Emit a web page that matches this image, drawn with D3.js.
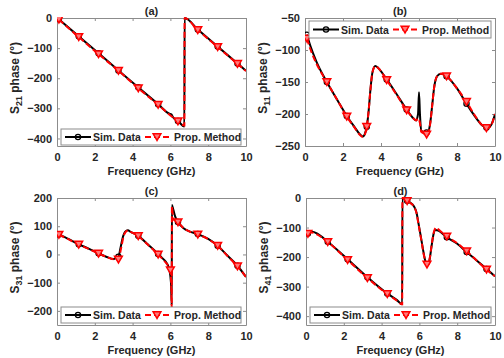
<!DOCTYPE html>
<html>
<head>
<meta charset="utf-8">
<script src="https://cdn.jsdelivr.net/npm/d3@7"></script>
<style>
  body { margin: 0; background: #fff; }
  svg { display: block; }
  text { font-family: Arial, Helvetica, sans-serif; font-weight: bold; fill: #262626; }
</style>
</head>
<body>
<div id="chart"></div>
<script>
// frequencies (GHz) where markers are drawn
const markFreqs = [0.1, 1.15, 2.2, 3.25, 4.3, 5.35, 6.4, 7.45, 8.5, 9.55];
const xTicks = [0, 2, 4, 6, 8, 10];

// (a) S21 phase
const simA = [[0.1,-4],[1.15,-61],[2.2,-117],[3.25,-174],[4.3,-230],[5.35,-286],[5.95,-318],[6.05,-320],[6.12,-328],[6.4,-342],[6.74,-360],[6.75,0],[7.45,-38],[8.5,-95],[9.55,-151],[10,-175]];
const propA = [[0.1,-5],[1.15,-63],[2.2,-120],[3.25,-175],[4.3,-233],[5.35,-288],[6.4,-343],[6.74,-357],[6.75,0],[7.45,-40],[8.5,-96],[9.55,-152],[10,-176]];
const yTicksA = [0, -100, -200, -300, -400];

// (b) S11 phase
const simB = [[0.1,-76],[0.3,-95],[0.6,-118],[1.15,-150],[1.7,-178],[2.2,-203],[2.6,-220],[2.9,-232],[3.05,-235],[3.15,-231],[3.25,-220],[3.35,-195],[3.45,-160],[3.55,-135],[3.7,-125],[3.85,-128],[4.3,-146],[4.8,-168],[5.35,-193],[5.65,-205],[5.85,-210],[5.95,-200],[6.0,-166],[6.05,-200],[6.12,-226],[6.3,-229],[6.4,-229],[6.5,-227],[6.6,-212],[6.7,-185],[6.8,-158],[6.95,-141],[7.15,-137],[7.45,-141],[8.0,-160],[8.5,-184],[9.0,-206],[9.3,-217],[9.55,-221],[9.75,-219],[9.9,-210],[10,-200]];
const propB = [[0.1,-82],[0.3,-100],[0.6,-121],[1.15,-150],[1.7,-178],[2.2,-204],[2.6,-221],[2.9,-233],[3.05,-236],[3.15,-232],[3.25,-220],[3.35,-195],[3.45,-160],[3.55,-135],[3.7,-125],[3.85,-128],[4.3,-147],[4.8,-169],[5.35,-194],[5.65,-205],[5.85,-210],[5.95,-207],[6.05,-214],[6.12,-228],[6.3,-231],[6.4,-232],[6.5,-229],[6.6,-213],[6.7,-185],[6.8,-158],[6.95,-141],[7.15,-137],[7.45,-141],[8.0,-160],[8.5,-181],[9.0,-205],[9.3,-217],[9.55,-222],[9.75,-220],[9.9,-210],[10,-200]];
const yTicksB = [-50, -100, -150, -200, -250];

// (c) S31 phase
const simC = [[0.1,71],[0.6,55],[1.15,36],[1.7,20],[2.2,4],[2.6,-8],[3.0,-16],[3.2,-9],[3.25,-8],[3.35,20],[3.5,65],[3.6,80],[3.75,86],[3.9,80],[4.3,66],[4.8,36],[5.35,2],[5.6,-15],[5.8,-30],[5.95,-56],[6.03,-100],[6.07,-180],[6.08,175],[6.15,160],[6.25,135],[6.4,115],[6.7,93],[7.0,82],[7.45,72],[8.0,55],[8.5,31],[9.0,-3],[9.55,-40],[10,-80]];
const propC = [[0.1,70],[0.6,54],[1.15,35],[1.7,19],[2.2,3],[2.6,-8],[3.0,-17],[3.25,-18],[3.4,25],[3.55,70],[3.75,85],[3.9,80],[4.3,65],[4.8,35],[5.35,0],[5.7,-25],[6.0,-56],[6.05,-120],[6.07,-190],[6.08,170],[6.15,125],[6.3,118],[6.4,114],[6.7,93],[7.0,82],[7.45,71],[8.0,54],[8.5,31],[9.0,-4],[9.55,-42],[10,-80]];
const markFreqsC = [0.1, 1.15, 2.2, 3.25, 4.3, 5.35, 6.0, 6.4, 7.45, 8.5, 9.55];
const yTicksC = [200, 100, 0, -100, -200];

// (d) S41 phase
const simD = [[0.1,-120],[0.2,-116],[0.35,-114],[0.6,-121],[1.15,-148],[2.2,-207],[3.25,-268],[4.3,-323],[4.8,-345],[5.09,-360],[5.1,0],[5.35,-9],[5.5,-15],[5.7,-27],[5.85,-50],[5.95,-85],[6.1,-140],[6.25,-195],[6.35,-222],[6.45,-228],[6.55,-205],[6.65,-160],[6.75,-122],[6.85,-108],[7.0,-110],[7.45,-133],[8.0,-155],[8.5,-183],[9.0,-210],[9.55,-240],[10,-265]];
const propD = [[0.1,-121],[0.3,-117],[0.6,-124],[1.15,-149],[2.2,-210],[3.25,-271],[4.3,-325],[4.8,-347],[5.09,-360],[5.1,0],[5.35,-10],[5.5,-16],[5.7,-28],[5.85,-52],[5.95,-88],[6.1,-142],[6.25,-197],[6.4,-225],[6.45,-226],[6.55,-203],[6.65,-158],[6.78,-112],[6.9,-100],[7.0,-106],[7.45,-130],[8.0,-153],[8.5,-180],[9.0,-210],[9.55,-242],[10,-265]];
const yTicksD = [0, -100, -200, -300, -400];

const legendLabels = ["Sim. Data", "Prop. Method"];

const panels = [
  { tag: "(a)", sub: "21", sim: simA, prop: propA, marks: markFreqs, yDom: [-425, 0], yTicks: yTicksA,
    box: [57, 246, 18, 146], legend: [61, 129, 180, 16] },
  { tag: "(b)", sub: "11", sim: simB, prop: propB, marks: markFreqs, yDom: [-250, -50], yTicks: yTicksB,
    box: [305, 495, 18, 146], legend: [309, 21, 182, 17] },
  { tag: "(c)", sub: "31", sim: simC, prop: propC, marks: markFreqsC, yDom: [-250, 200], yTicks: yTicksC,
    box: [57, 246, 198, 325], legend: [61, 307, 180, 16] },
  { tag: "(d)", sub: "41", sim: simD, prop: propD, marks: markFreqs, yDom: [-430, 0], yTicks: yTicksD,
    box: [306, 495, 198, 325], legend: [310, 307, 181, 16] }
];

const svg = d3.select("#chart").append("svg")
  .attr("width", 504).attr("height", 358);

const triangle = d3.symbol().type(d3.symbolTriangle).size(26);

function drawPanel(p, i) {
  const [xl, xr, yt, yb] = p.box;
  const x = d3.scaleLinear().domain([0, 10]).range([xl, xr]);
  const y = d3.scaleLinear().domain(p.yDom).range([yb, yt]);
  const g = svg.append("g");

  g.append("rect").attr("x", xl).attr("y", yt).attr("width", xr - xl).attr("height", yb - yt)
    .attr("fill", "#fff");

  const clipId = "clip" + i;
  g.append("clipPath").attr("id", clipId).append("rect")
    .attr("x", xl).attr("y", yt - 1).attr("width", xr - xl).attr("height", yb - yt + 2);

  // axes (MATLAB style, ticks inside, box on)
  const axStyle = sel => {
    sel.selectAll("path.domain").attr("stroke", "#8c8c8c");
    sel.selectAll(".tick line").attr("stroke", "#8c8c8c");
    sel.selectAll("text").attr("font-size", 11).attr("font-family", "Arial, Helvetica, sans-serif")
      .attr("font-weight", "bold").attr("fill", "#262626");
  };
  g.append("g").attr("transform", `translate(0,${yb})`)
    .call(d3.axisBottom(x).tickValues(xTicks).tickSize(-3).tickPadding(7).tickSizeOuter(0))
    .call(axStyle);
  g.append("g").attr("transform", `translate(0,${yt})`)
    .call(d3.axisTop(x).tickValues(xTicks).tickSize(-3).tickFormat("").tickSizeOuter(0))
    .call(axStyle);
  g.append("g").attr("transform", `translate(${xl},0)`)
    .call(d3.axisLeft(y).tickValues(p.yTicks).tickSize(-3).tickPadding(5).tickSizeOuter(0))
    .call(axStyle);
  g.append("g").attr("transform", `translate(${xr},0)`)
    .call(d3.axisRight(y).tickValues(p.yTicks).tickSize(-3).tickFormat("").tickSizeOuter(0))
    .call(axStyle);

  const line = d3.line().x(d => x(d[0])).y(d => y(d[1])).curve(d3.curveMonotoneX);
  const plot = g.append("g").attr("clip-path", `url(#${clipId})`);

  plot.append("path").datum(p.sim).attr("d", line)
    .attr("fill", "none").attr("stroke", "#000").attr("stroke-width", 2);
  plot.selectAll("circle.sim").data(p.sim.filter(d => markFreqs.includes(d[0])))
    .join("circle").attr("class", "sim")
    .attr("cx", d => x(d[0])).attr("cy", d => y(d[1])).attr("r", 2.6)
    .attr("fill", "none").attr("stroke", "#000").attr("stroke-width", 1.3);

  plot.append("path").datum(p.prop).attr("d", line)
    .attr("fill", "none").attr("stroke", "#ff0000").attr("stroke-width", 2)
    .attr("stroke-dasharray", "6,3");
  plot.selectAll("path.tri").data(p.prop.filter(d => p.marks.includes(d[0])))
    .join("path").attr("class", "tri")
    .attr("d", triangle)
    .attr("transform", d => `translate(${x(d[0])},${y(d[1]) - 1}) rotate(180)`)
    .attr("fill", "#ff7a7a").attr("stroke", "#ff0000").attr("stroke-width", 1.5);

  // title
  g.append("text").attr("x", (xl + xr) / 2).attr("y", yt - 3)
    .attr("text-anchor", "middle").attr("font-size", 11).text(p.tag);

  // x label
  g.append("text").attr("x", (xl + xr) / 2).attr("y", yb + 29)
    .attr("text-anchor", "middle").attr("font-size", 11).text("Frequency (GHz)");

  // y label with subscript
  const yl = g.append("text")
    .attr("transform", `translate(${xl - 38},${(yt + yb) / 2 - 4}) rotate(-90)`)
    .attr("text-anchor", "middle").attr("font-size", 12);
  yl.append("tspan").text("S");
  yl.append("tspan").attr("font-size", 9).attr("dy", 3).text(p.sub);
  yl.append("tspan").attr("dy", -3).text(" phase (°)");

  // legend
  const [lx, ly, lw, lh] = p.legend;
  const lg = g.append("g").attr("transform", `translate(${lx},${ly})`);
  lg.append("rect").attr("width", lw).attr("height", lh)
    .attr("fill", "#fff").attr("stroke", "#8c8c8c").attr("stroke-width", 1);
  const cy = lh / 2;
  lg.append("line").attr("x1", 4).attr("x2", 30).attr("y1", cy).attr("y2", cy)
    .attr("stroke", "#000").attr("stroke-width", 2);
  lg.append("circle").attr("cx", 17).attr("cy", cy).attr("r", 2.6)
    .attr("fill", "none").attr("stroke", "#000").attr("stroke-width", 1.3);
  lg.append("text").attr("x", 32).attr("y", cy + 4).attr("font-size", 10.5).text(legendLabels[0]);
  lg.append("line").attr("x1", 84).attr("x2", 110).attr("y1", cy).attr("y2", cy)
    .attr("stroke", "#ff0000").attr("stroke-width", 2).attr("stroke-dasharray", "6,3");
  lg.append("path").attr("d", triangle)
    .attr("transform", `translate(96,${cy - 1}) rotate(180)`)
    .attr("fill", "#ff7a7a").attr("stroke", "#ff0000").attr("stroke-width", 1.5);
  lg.append("text").attr("x", 113).attr("y", cy + 4).attr("font-size", 10.5).text(legendLabels[1]);
}

panels.forEach(drawPanel);
</script>
</body>
</html>
